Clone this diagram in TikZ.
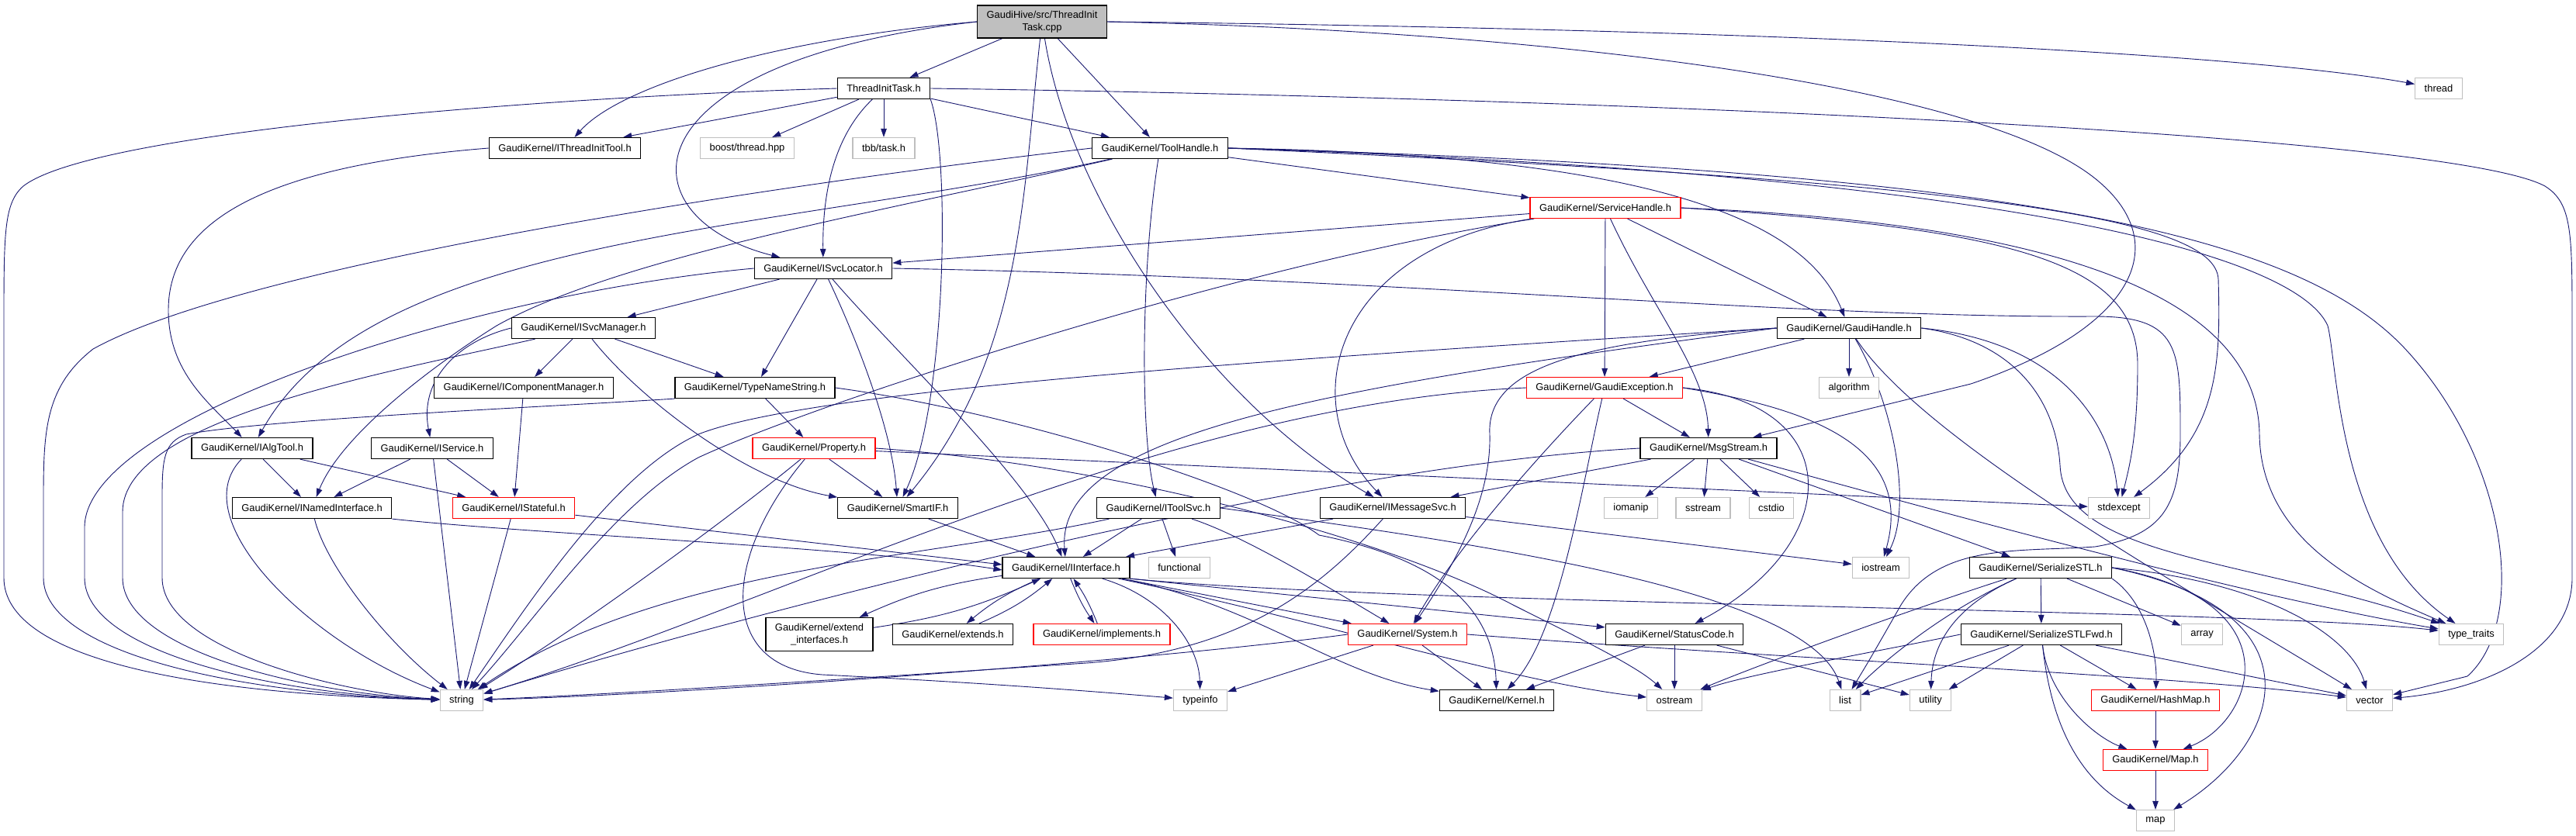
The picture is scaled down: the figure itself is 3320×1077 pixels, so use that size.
\documentclass[tikz,border=0pt]{standalone}
\usepackage{fontspec}
\setmainfont{Liberation Sans}
\usetikzlibrary{arrows.meta,backgrounds}
\definecolor{depblue}{HTML}{191970}
\definecolor{sysgray}{HTML}{BFBFBF}
\definecolor{truncred}{HTML}{FF0000}

\begin{document}
\begin{tikzpicture}[x=1pt,y=-1pt,
  hdr/.style={draw=black,fill=white,line width=1.2pt,minimum height=27pt,inner xsep=12pt,inner ysep=1pt,font=\fontsize{12.9}{16.5}\selectfont},
  trunc/.style={hdr,draw=truncred},
  syshdr/.style={hdr,draw=sysgray},
  dep/.style={depblue,line width=0.9pt,-{Triangle[length=11pt,width=7.5pt]}}]
\useasboundingbox (0,0) rectangle (3320,1077);

\node[hdr,fill=sysgray,align=center,minimum height=42pt] (cpp) at (1343,28) {GaudiHive/src/ThreadInit\\Task.cpp};
\node[hdr] (tith) at (1139,114) {ThreadInitTask.h};
\node[syshdr] (thread) at (3143,114) {thread};
\node[hdr] (itit) at (728,191) {GaudiKernel/IThreadInitTool.h};
\node[syshdr] (boost) at (963,191) {boost/thread.hpp};
\node[syshdr] (tbb) at (1139,191) {tbb/task.h};
\node[hdr] (toolh) at (1495,191) {GaudiKernel/ToolHandle.h};
\node[trunc] (svch) at (2069,268) {GaudiKernel/ServiceHandle.h};
\node[hdr] (isvcloc) at (1061,346) {GaudiKernel/ISvcLocator.h};
\node[hdr] (isvcman) at (752,423) {GaudiKernel/ISvcManager.h};
\node[hdr] (gaudih) at (2383,423) {GaudiKernel/GaudiHandle.h};
\node[hdr] (icompman) at (675,500) {GaudiKernel/IComponentManager.h};
\node[hdr] (typename) at (973,500) {GaudiKernel/TypeNameString.h};
\node[trunc] (gexc) at (2068,500) {GaudiKernel/GaudiException.h};
\node[syshdr] (algorithm) at (2383,500) {algorithm};
\node[hdr] (ialgtool) at (325,578) {GaudiKernel/IAlgTool.h};
\node[hdr] (iservice) at (557,578) {GaudiKernel/IService.h};
\node[trunc] (property) at (1049,578) {GaudiKernel/Property.h};
\node[hdr] (msgstream) at (2202,578) {GaudiKernel/MsgStream.h};
\node[hdr] (inamed) at (402,655) {GaudiKernel/INamedInterface.h};
\node[trunc] (istateful) at (662,655) {GaudiKernel/IStateful.h};
\node[hdr] (smartif) at (1157,655) {GaudiKernel/SmartIF.h};
\node[hdr] (itoolsvc) at (1493,655) {GaudiKernel/IToolSvc.h};
\node[hdr] (imsgsvc) at (1795,655) {GaudiKernel/IMessageSvc.h};
\node[syshdr] (iomanip) at (2102,655) {iomanip};
\node[syshdr] (sstream) at (2195,655) {sstream};
\node[syshdr] (cstdio) at (2283,655) {cstdio};
\node[syshdr] (stdexcept) at (2731,655) {stdexcept};
\node[hdr] (iinterface) at (1374,732) {GaudiKernel/IInterface.h};
\node[syshdr] (functional) at (1520,732) {functional};
\node[syshdr] (iostream) at (2424,732) {iostream};
\node[hdr] (sstl) at (2630,732) {GaudiKernel/SerializeSTL.h};
\node[hdr,align=center,minimum height=43pt] (extendif) at (1056,818) {GaudiKernel/extend\\\_interfaces.h};
\node[hdr] (extends) at (1228,818) {GaudiKernel/extends.h};
\node[trunc] (implements) at (1420,818) {GaudiKernel/implements.h};
\node[trunc] (system) at (1814,818) {GaudiKernel/System.h};
\node[hdr] (statuscode) at (2158,818) {GaudiKernel/StatusCode.h};
\node[hdr] (sstlfwd) at (2631,818) {GaudiKernel/SerializeSTLFwd.h};
\node[syshdr] (array) at (2838,818) {array};
\node[syshdr] (typetraits) at (3185,818) {type\_traits};
\node[syshdr] (string) at (595,903) {string};
\node[syshdr] (typeinfo) at (1547,903) {typeinfo};
\node[hdr] (kernel) at (1929,903) {GaudiKernel/Kernel.h};
\node[syshdr] (ostream) at (2158,903) {ostream};
\node[syshdr] (list) at (2378,903) {list};
\node[syshdr] (utility) at (2488,903) {utility};
\node[trunc] (hashmap) at (2778,903) {GaudiKernel/HashMap.h};
\node[syshdr] (vector) at (3054,903) {vector};
\node[trunc] (maph) at (2778,980) {GaudiKernel/Map.h};
\node[syshdr] (map) at (2778,1058) {map};

\begin{pgfonlayer}{background}
\fill[white] (0,0) rectangle (3320,1077);
% near-straight includes
\foreach \src/\dst in {cpp/tith, cpp/toolh, tith/itit, tith/boost, tith/tbb, tith/toolh,
  toolh/svch, svch/isvcloc, svch/gexc, svch/gaudih, isvcloc/isvcman, isvcloc/typename,
  isvcman/icompman, isvcman/typename, gaudih/gexc, gaudih/algorithm, icompman/istateful,
  typename/property, ialgtool/inamed, ialgtool/istateful, iservice/inamed, iservice/istateful,
  iservice/string, istateful/string, property/smartif, property/stdexcept, msgstream/imsgsvc,
  msgstream/iomanip, msgstream/sstream, msgstream/cstdio, msgstream/sstl, gexc/msgstream,
  smartif/iinterface, itoolsvc/iinterface, itoolsvc/functional, imsgsvc/iinterface,
  imsgsvc/iostream, iinterface/system, system/typeinfo, system/kernel, statuscode/kernel,
  statuscode/ostream, statuscode/utility, sstl/sstlfwd, sstl/array, sstlfwd/list,
  sstlfwd/utility, sstlfwd/hashmap, sstlfwd/vector, hashmap/maph, maph/map}
  \draw[dep] (\src) -- (\dst);

% ThreadInitTask.cpp
\draw[dep] (cpp.west) .. controls (1000,50) and (800,110) .. (itit);
\draw[dep] (cpp.west) .. controls (800,80) and (800,280) .. (isvcloc);
\draw[dep] (cpp) .. controls (1318,250) and (1318,460) .. (smartif);
\draw[dep] (cpp) .. controls (1380,260) and (1560,520) .. (imsgsvc);
\draw[dep] (cpp.east) .. controls (2000,40) and (2550,110) .. (2700,230) .. controls (2800,310) and (2760,420) .. (2540,495) -- (msgstream);
\draw[dep] (cpp.east) .. controls (2300,38) and (2900,70) .. (thread);

% ThreadInitTask.h
\draw[dep] (tith) .. controls (1070,180) and (1060,260) .. (isvcloc);
\draw[dep] (tith.south east) .. controls (1225,200) and (1220,520) .. (smartif);
\draw[dep] (tith.west) .. controls (700,125) and (120,170) .. (30,240) .. controls (5,262) and (5,300) .. (5,420) -- (5,745) .. controls (5,850) and (250,895) .. (string);
\draw[dep] (tith.east) .. controls (2000,125) and (3150,170) .. (3280,240) .. controls (3315,262) and (3315,300) .. (3315,420) -- (3315,745) .. controls (3315,840) and (3200,890) .. (vector);
\draw[dep] (itit.west) .. controls (330,215) and (217,290) .. (217,400) .. controls (217,480) and (270,520) .. (ialgtool);

% ToolHandle.h
\draw[dep] (toolh.west) .. controls (900,250) and (300,350) .. (120,450) .. controls (56,500) and (56,560) .. (56,650) -- (56,745) .. controls (56,840) and (300,895) .. (string);
\draw[dep] (toolh) .. controls (1000,300) and (480,300) .. (ialgtool);
\draw[dep] (toolh) .. controls (1150,270) and (800,330) .. (640,420) .. controls (560,470) and (440,560) .. (inamed);
\draw[dep] (toolh) .. controls (1470,350) and (1470,560) .. (itoolsvc);
\draw[dep] (toolh.east) .. controls (2150,200) and (2330,290) .. (gaudih);
\draw[dep] (toolh.east) .. controls (2600,220) and (2960,300) .. (3100,450) .. controls (3230,590) and (3260,800) .. (3180,872) -- (vector);
\draw[dep] (toolh.east) .. controls (2600,225) and (2960,330) .. (3000,420) .. controls (3013,470) and (3013,700) .. (typetraits);
\draw[dep] (toolh.east) .. controls (2550,235) and (2855,280) .. (2859,360) .. controls (2862,470) and (2860,560) .. (stdexcept);

% ServiceHandle.h
\draw[dep] (svch) .. controls (1600,340) and (1050,520) .. (900,590) .. controls (790,650) and (690,800) .. (string);
\draw[dep] (svch) .. controls (1720,320) and (1665,520) .. (imsgsvc);
\draw[dep] (svch) .. controls (2130,400) and (2200,480) .. (msgstream);
\draw[dep] (svch.east) .. controls (2700,290) and (2910,400) .. (2912,560) .. controls (2914,700) and (3050,760) .. (typetraits);
\draw[dep] (svch.east) .. controls (2600,295) and (2755,340) .. (2755,470) .. controls (2755,560) and (2745,600) .. (stdexcept);

% ISvcLocator.h, ISvcManager.h, TypeNameString.h
\draw[dep] (isvcloc.west) .. controls (600,380) and (109,540) .. (109,680) -- (109,745) .. controls (109,840) and (350,895) .. (string);
\draw[dep] (isvcloc) .. controls (1110,450) and (1150,560) .. (smartif);
\draw[dep] (isvcloc) .. controls (1150,450) and (1330,620) .. (iinterface);
\draw[dep] (isvcloc.east) .. controls (1800,358) and (2300,410) .. (2700,408) .. controls (2810,408) and (2810,450) .. (2810,560) .. controls (2810,650) and (2790,690) .. (2700,705) .. controls (2600,712) and (2500,700) .. (2450,780) .. controls (2410,850) .. (list);
\draw[dep] (isvcman.west) .. controls (590,440) and (540,490) .. (iservice);
\draw[dep] (isvcman) .. controls (500,480) and (158,540) .. (158,660) -- (158,745) .. controls (158,840) and (400,895) .. (string);
\draw[dep] (isvcman) .. controls (820,510) and (960,620) .. (smartif);
\draw[dep] (typename.south west) .. controls (700,525) and (350,540) .. (240,560) .. controls (212,570) and (209,590) .. (209,640) -- (209,745) .. controls (209,840) and (450,895) .. (string);
\draw[dep] (typename.east) .. controls (1300,530) and (1620,630) .. (1700,690) .. controls (1850,720) and (1925,780) .. (kernel);

% interfaces
\draw[dep] (ialgtool) .. controls (235,670) and (400,830) .. (string);
\draw[dep] (inamed) .. controls (420,730) and (500,830) .. (string);
\draw[dep] (inamed.south east) .. controls (700,690) and (1100,705) .. ([yshift=-3pt]iinterface.west);
\draw[dep] (istateful) -- ([yshift=4pt]iinterface.west);
\draw[dep] (property) .. controls (950,660) and (760,800) .. (string);
\draw[dep] (property) .. controls (930,720) and (925,860) .. (1060,870) .. controls (1300,882) and (1450,895) .. (typeinfo);
\draw[dep] (property.east) .. controls (1450,600) and (1800,700) .. (1950,780) .. controls (2050,830) and (2110,860) .. (ostream);
\draw[dep] (msgstream.west) .. controls (1700,600) and (1000,780) .. (string);
\draw[dep] (msgstream) .. controls (2500,660) and (2900,770) .. (typetraits);
\draw[dep] (imsgsvc) .. controls (1700,760) and (1600,840) .. (1400,855) .. controls (1100,875) and (800,895) .. (string);
\draw[dep] (itoolsvc) .. controls (1200,720) and (850,730) .. (string);
\draw[dep] (itoolsvc) .. controls (1600,690) and (1700,750) .. (system);
\draw[dep] (itoolsvc.east) .. controls (1900,700) and (2330,760) .. (list);

% IInterface.h
\draw[dep] (iinterface) .. controls (1500,770) and (1545,830) .. (typeinfo);
\draw[dep] (iinterface) .. controls (1620,780) and (1720,870) .. (kernel);
\draw[dep] (iinterface) .. controls (1700,800) and (1950,880) .. (ostream);
\draw[dep] (iinterface.south east) -- (statuscode);
\draw[dep] (iinterface.south east) .. controls (1800,780) and (2900,785) .. (typetraits);
\draw[dep] (iinterface) to[bend right=8] (extendif);
\draw[dep] (extendif) to[bend right=8] (iinterface);
\draw[dep] (iinterface) to[bend right=8] (extends);
\draw[dep] (extends) to[bend right=8] (iinterface);
\draw[dep] (iinterface) to[bend right=6] (implements);
\draw[dep] (implements) to[bend right=6] (iinterface);
\draw[dep] (system.west) .. controls (1500,850) and (900,895) .. (string);
\draw[dep] (system.east) .. controls (2300,850) and (2800,870) .. (vector);

% GaudiException.h, GaudiHandle.h
\draw[dep] (gexc.west) .. controls (1500,520) and (1000,780) .. (string);
\draw[dep] (gexc) .. controls (2000,570) and (1880,700) .. (system);
\draw[dep] (gexc) .. controls (2040,620) and (2010,820) .. (kernel);
\draw[dep] (gexc.east) .. controls (2380,520) and (2380,700) .. (statuscode);
\draw[dep] (gexc.east) .. controls (2320,525) and (2470,570) .. (iostream);
\draw[dep] (gaudih.west) .. controls (1700,460) and (1050,500) .. (900,560) .. controls (790,610) and (680,780) .. (string);
\draw[dep] (gaudih.west) .. controls (2050,440) and (1915,470) .. (1920,560) .. controls (1922,640) and (1880,720) .. (system);
\draw[dep] (gaudih.west) .. controls (1700,500) and (1360,560) .. (iinterface);
\draw[dep] (gaudih) .. controls (2440,520) and (2465,650) .. (iostream);
\draw[dep] (gaudih) .. controls (2480,570) and (2820,760) .. (vector);
\draw[dep] (gaudih.east) .. controls (2650,440) and (2720,540) .. (stdexcept);
\draw[dep] (gaudih.east) .. controls (2600,440) and (2650,520) .. (2655,600) .. controls (2660,720) and (2900,720) .. (typetraits);

% SerializeSTL.h, SerializeSTLFwd.h
\draw[dep] (sstl) .. controls (2450,790) and (2260,860) .. (ostream);
\draw[dep] (sstl) .. controls (2500,790) and (2420,860) .. (list);
\draw[dep] (sstl) .. controls (2500,790) and (2490,850) .. (utility);
\draw[dep] (sstl.south east) .. controls (2770,780) and (2780,850) .. (hashmap);
\draw[dep] (sstl.east) .. controls (2960,775) and (2905,930) .. (maph);
\draw[dep] (sstl.east) .. controls (3000,790) and (2940,960) .. (map);
\draw[dep] (sstl.east) .. controls (2920,750) and (3030,820) .. (vector);
\draw[dep] (sstlfwd.west) .. controls (2420,840) and (2250,870) .. (ostream);
\draw[dep] (sstlfwd) .. controls (2640,900) and (2700,950) .. (maph);
\draw[dep] (sstlfwd) .. controls (2645,950) and (2690,1010) .. (map);
\end{pgfonlayer}
\end{tikzpicture}
\end{document}
